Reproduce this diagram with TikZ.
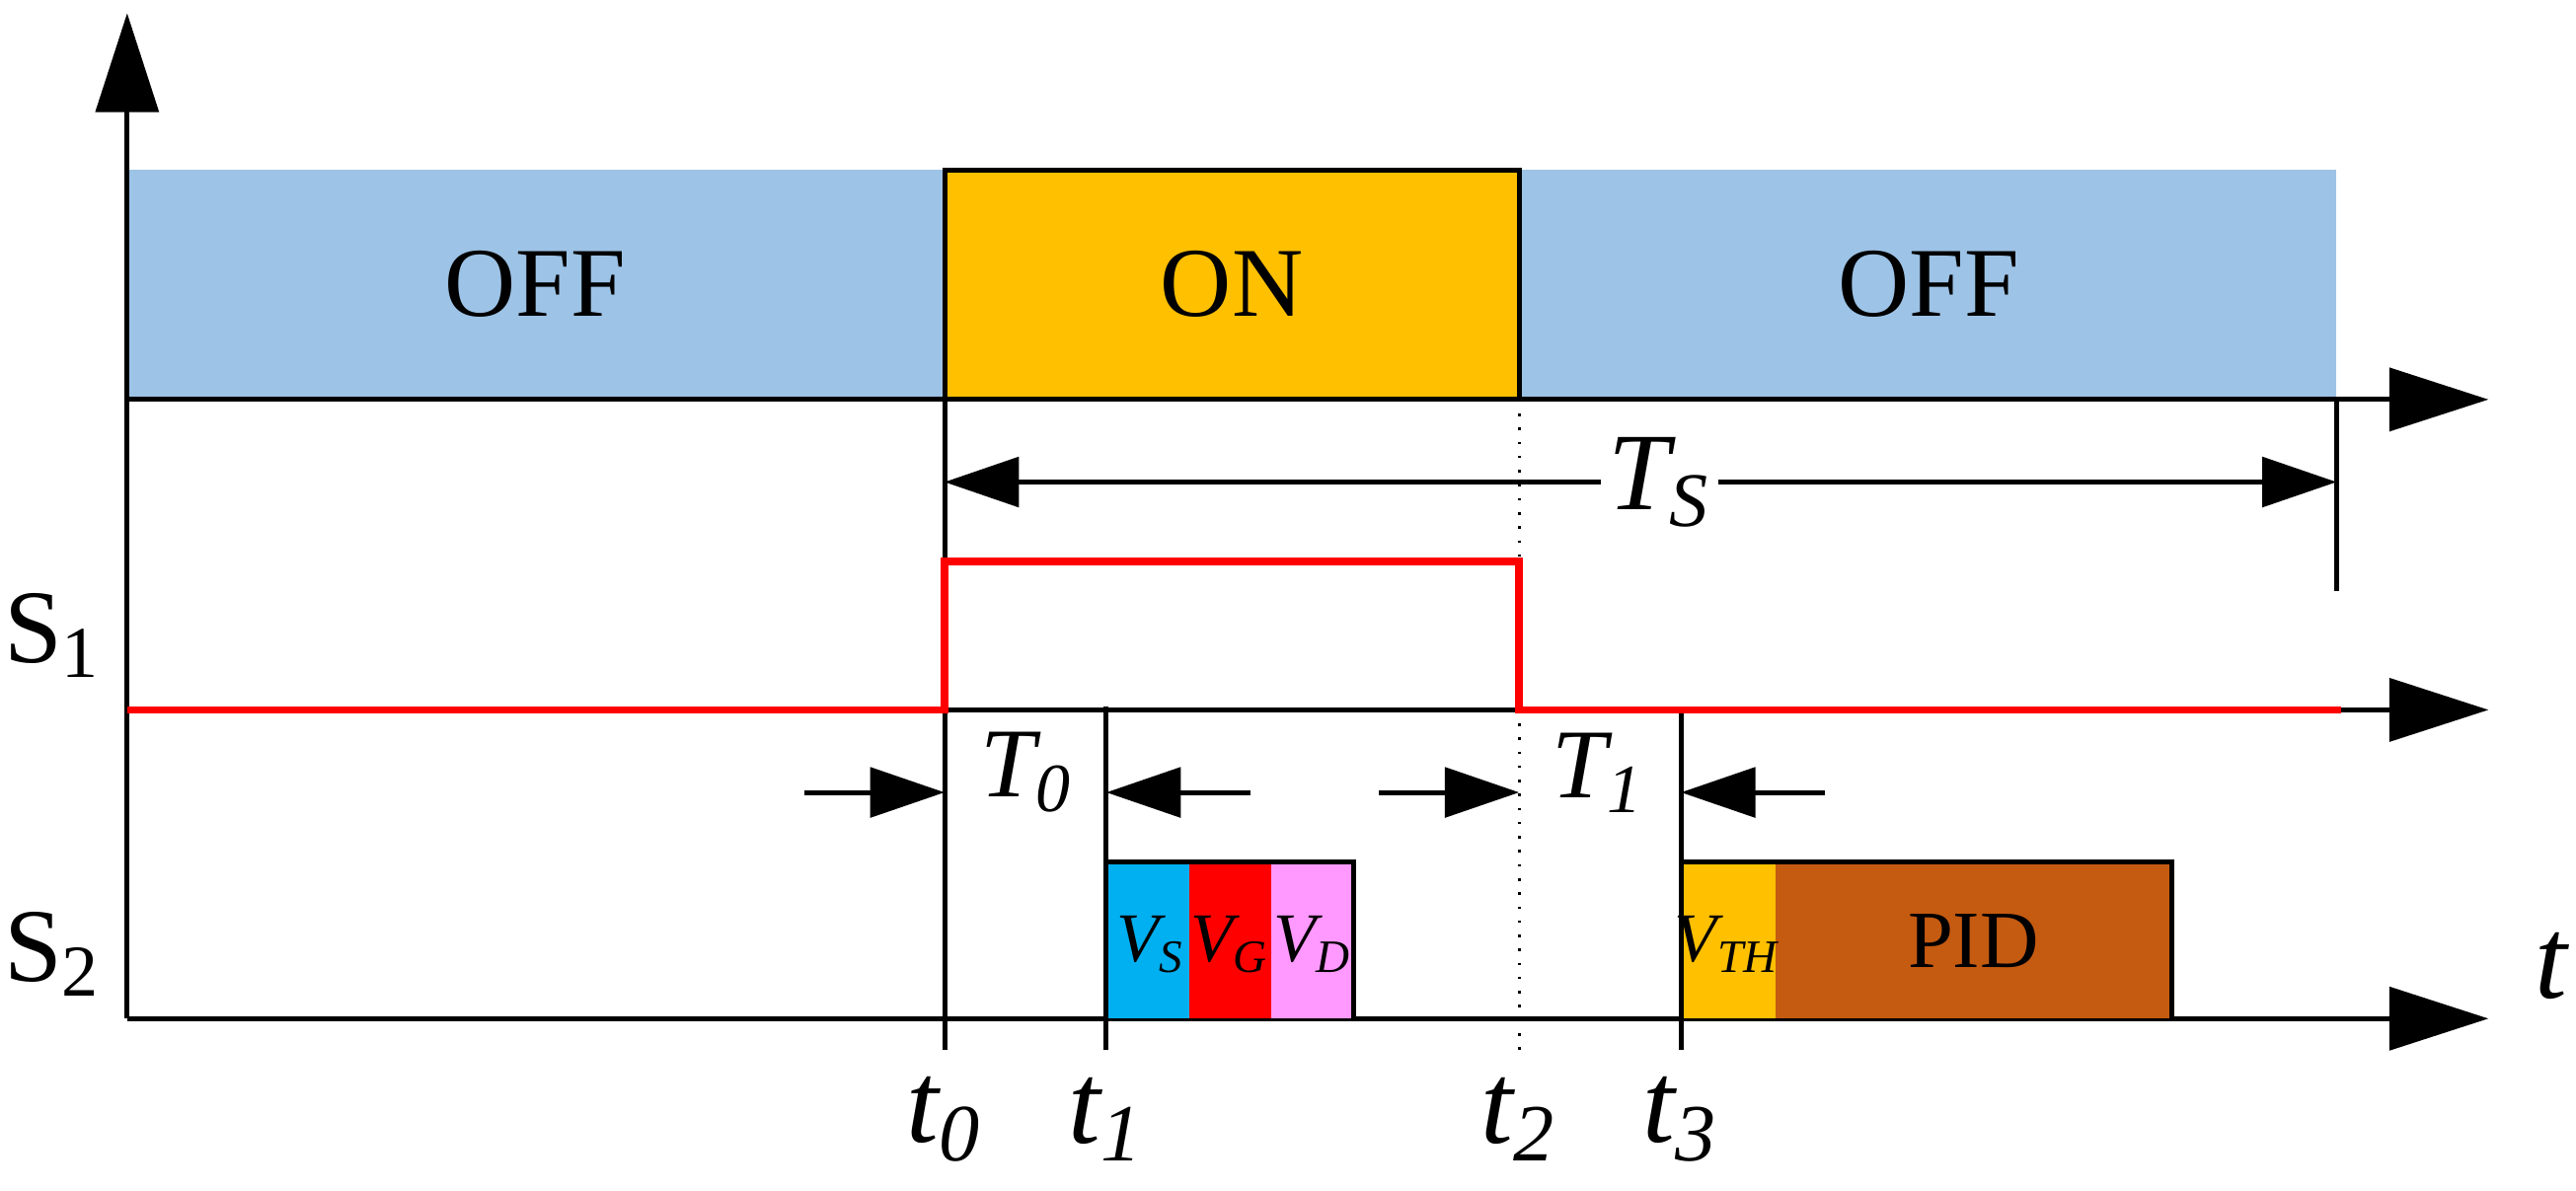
\documentclass[tikz,border=0pt]{standalone}
\usepackage{fontspec}
\setmainfont{Liberation Serif}
\usetikzlibrary{arrows.meta}
\definecolor{bandblue}{RGB}{157,195,230}
\definecolor{onor}{RGB}{255,192,0}
\definecolor{vscyan}{RGB}{0,176,240}
\definecolor{vdpink}{RGB}{255,153,255}
\definecolor{pidbr}{RGB}{197,90,17}
\begin{document}
\begin{tikzpicture}[x=0.1mm,y=-0.1mm,
  ax/.style={line width=0.3mm,-{Triangle[length=6mm,width=3.8mm]}},
  dim/.style={line width=0.3mm,-{Triangle[length=4.5mm,width=3mm]}},
  ln/.style={line width=0.3mm},
  lab/.style={font=\fontsize{17}{17}\selectfont},
  tl/.style={font=\fontsize{20}{20}\selectfont\itshape},
  bx/.style={font=\fontsize{12}{12}\selectfont\itshape,inner sep=0pt}]
\useasboundingbox (0,0) rectangle (1560,721.4);
\fill[bandblue] (77,103) rectangle (1415,242);
\draw[ln,fill=onor] (572,103) rectangle (920,242);
\node[lab] (off1) at (324,172) {OFF};
\node[lab] (on) at (746,172) {ON};
\node[lab] (off2) at (1168,172) {OFF};
\coordinate (o) at (77,617);
\coordinate (ytop) at (77,8);
\draw[ax] (o) -- (ytop);
\coordinate (a0) at (77,242); \coordinate (a1) at (1507,242);
\coordinate (b0) at (77,430); \coordinate (b1) at (1507,430);
\coordinate (c1) at (1507,617);
\draw[ax] (a0) -- (a1);
\draw[ax] (b0) -- (b1);
\draw[ax] (o) -- (c1);
\draw[ln] (572,242) -- (572,636);
\draw[line width=0.15mm,dotted] (920,242) -- (920,636);
\draw[ln] (1415,242) -- (1415,358);
\draw[ln] (670,428) -- (670,636);
\draw[ln] (1018,428) -- (1018,636);
\node[font=\fontsize{19}{19}\selectfont\itshape,fill=white,inner sep=1pt] (ts) at (1005,292) {T\textsubscript{S}};
\draw[dim] (ts.west) -- (572,292);
\draw[dim] (ts.east) -- (1415,292);
\draw[red,line width=0.45mm] (77,430) -- (572,430) -- (572,340) -- (920,340) -- (920,430) -- (1418,430);
\node[font=\fontsize{18}{18}\selectfont] (s1) at (32,385) {S\textsubscript{1}};
\node[font=\fontsize{18}{18}\selectfont] (s2) at (32,578) {S\textsubscript{2}};
\node[tl] (t) at (1545,585) {t};
\draw[dim] (487,480) -- (572,480);
\draw[dim] (757,480) -- (670,480);
\draw[dim] (835,480) -- (920,480);
\draw[dim] (1105,480) -- (1018,480);
\node[font=\fontsize{17}{17}\selectfont\itshape] (T0) at (622,468) {T\textsubscript{0}};
\node[font=\fontsize{17}{17}\selectfont\itshape] (T1) at (968,468) {T\textsubscript{1}};
\fill[vscyan] (670,522) rectangle (720,617);
\fill[red] (720,522) rectangle (770,617);
\fill[vdpink] (770,522) rectangle (820,617);
\draw[ln] (670,617) -- (670,522) -- (820,522) -- (820,617);
\node[bx] (vs) at (697,572) {V\textsubscript{S}};
\node[bx] (vg) at (745,572) {V\textsubscript{G}};
\node[bx] (vd) at (795,572) {V\textsubscript{D}};
\fill[onor] (1018,522) rectangle (1075,617);
\fill[pidbr] (1075,522) rectangle (1315,617);
\draw[ln] (1018,617) -- (1018,522) -- (1315,522) -- (1315,617);
\node[bx] (vth) at (1046,572) {V\textsubscript{TH}};
\node[font=\fontsize{14}{14}\selectfont] (pid) at (1195,570) {PID};
\node[tl] (t0) at (572,678) {t\textsubscript{0}};
\node[tl] (t1) at (670,678) {t\textsubscript{1}};
\node[tl] (t2) at (920,678) {t\textsubscript{2}};
\node[tl] (t3) at (1018,678) {t\textsubscript{3}};
\end{tikzpicture}
\end{document}
